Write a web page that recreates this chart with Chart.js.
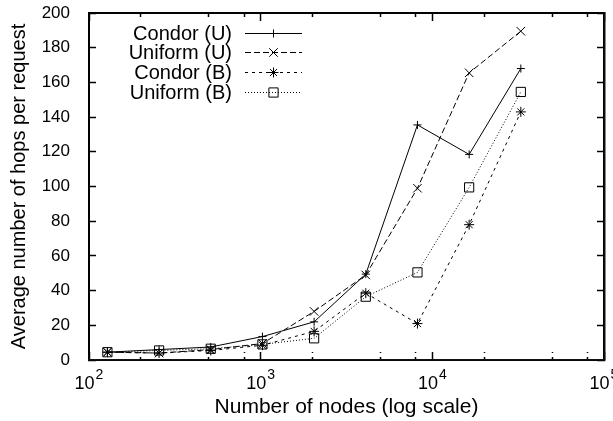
<!DOCTYPE html>
<html>
<head>
<meta charset="utf-8">
<script src="https://cdn.jsdelivr.net/npm/chart.js@4.4.1/dist/chart.umd.min.js"></script>
<style>
  html, body { margin: 0; padding: 0; background: #ffffff; }
  #c { display: block; }
</style>
</head>
<body>
<canvas id="c" width="613" height="421"></canvas>
<script>
// ---- data ----
const nodes = [128, 256, 512, 1024, 2048, 4096, 8192, 16384, 32768];
const condorU = [4.5, 6, 7.5, 13.5, 22, 49.5, 135.5, 118.5, 168];
const uniformU = [4.5, 4, 6, 9.5, 28, 49, 99, 165.5, 189.5];
const condorB = [4.5, 4, 5.5, 8.5, 16.5, 38.5, 21, 78, 143];
const uniformB = [4.5, 5.5, 6.5, 9, 12.5, 36.5, 50.5, 99.5, 154.5];
const seriesNames = ['Condor (U)', 'Uniform (U)', 'Condor (B)', 'Uniform (B)'];
const xTickValues = [100, 1000, 10000, 100000];
const xTickBase = ['10', '10', '10', '10'];
const xTickExp = ['2', '3', '4', '5'];
const xMinorFactors = [2, 5, 8];
const yTickStep = 20;
const yMin = 0, yMax = 200;
const xTitle = 'Number of nodes (log scale)';
const yTitle = 'Average number of hops per request';

const FONT = "'Liberation Sans', Arial, Helvetica, sans-serif";

function pts(values) { return nodes.map((n, i) => ({ x: n, y: values[i] })); }

const styles = [
  { dash: [], pointStyle: 'cross', r: 4 },
  { dash: [6, 3], pointStyle: 'crossRot', r: 6 },
  { dash: [3, 4], pointStyle: 'star', r: 5 },
  { dash: [1, 2], pointStyle: 'rect', r: 6.5 }
];
const seriesData = [condorU, uniformU, condorB, uniformB];

const datasets = seriesData.map((vals, i) => ({
  label: seriesNames[i],
  data: pts(vals),
  borderColor: '#000',
  backgroundColor: 'rgba(0,0,0,0)',
  borderWidth: 1,
  borderDash: styles[i].dash,
  pointStyle: styles[i].pointStyle,
  pointRadius: styles[i].r,
  pointBorderWidth: 1,
  pointBorderColor: '#000',
  pointBackgroundColor: 'rgba(0,0,0,0)',
  tension: 0,
  fill: false
}));

// all x tick positions: decades plus minor factors 2, 5, 8
const xAllTicks = [];
xTickValues.forEach((v, d) => {
  xAllTicks.push(v);
  if (d < xTickValues.length - 1) xMinorFactors.forEach(f => xAllTicks.push(v * f));
});
const isMajor = v => xTickValues.some(m => Math.abs(m - v) < 1e-6 * m);

function xGrid(top) {
  return {
    display: true, drawOnChartArea: false, drawTicks: true,
    tickLength: -8, color: '#000', tickColor: '#000', tickWidth: 1.5, lineWidth: 1,
    tickBorderDash: c => (c.tick && !isMajor(c.tick.value)) ? [4, 4] : [],
    tickBorderDashOffset: c => (top && c.tick && !isMajor(c.tick.value)) ? 4 : 0
  };
}
const yGrid = {
  display: true, drawOnChartArea: false, drawTicks: true,
  tickLength: -7, color: '#000', tickColor: '#000', tickWidth: 1.5, lineWidth: 1
};
const blackBorder = { display: true, color: '#000', width: 2 };

function setXTicks(s) { s.ticks = xAllTicks.map(v => ({ value: v })); }
function noPad(s) { s.paddingTop = 0; s.paddingBottom = 0; s.paddingLeft = 0; s.paddingRight = 0; }

// reinforce the bottom and right frame edges from the scales' own extent
const edgePlugin = {
  id: 'gpedges',
  afterDatasetsDraw(chart) {
    const ctx = chart.ctx;
    const xs = chart.scales.x, ys = chart.scales.y;
    const L = Math.round(xs.getPixelForValue(xTickValues[0]));
    const R = Math.round(xs.getPixelForValue(xTickValues[xTickValues.length - 1]));
    const T = Math.round(ys.getPixelForValue(yMax));
    const B = Math.round(ys.getPixelForValue(yMin));
    ctx.save();
    ctx.strokeStyle = '#111';
    ctx.lineWidth = 1.6;
    ctx.setLineDash([]);
    ctx.beginPath();
    ctx.moveTo(L - 1, B - 0.3);
    ctx.lineTo(R + 0.7, B - 0.3);
    ctx.lineTo(R + 0.7, T - 1);
    ctx.stroke();
    ctx.restore();
  }
};

const labelPlugin = {
  id: 'gplabels',
  afterDraw(chart) {
    const ctx = chart.ctx;
    const a = chart.chartArea;
    const xs = chart.scales.x;
    ctx.save();
    ctx.fillStyle = '#000';
    ctx.textBaseline = 'alphabetic';
    ctx.textAlign = 'left';
    // x tick labels with superscript exponents
    xTickValues.forEach((v, i) => {
      const x = xs.getPixelForValue(v);
      ctx.font = '18px ' + FONT;
      const wb = ctx.measureText(xTickBase[i]).width;
      ctx.font = '14px ' + FONT;
      const we = ctx.measureText(xTickExp[i]).width;
      const start = x - (wb + we + 1) / 2;
      ctx.font = '18px ' + FONT;
      ctx.fillText(xTickBase[i], start, a.bottom + 29);
      ctx.font = '14px ' + FONT;
      ctx.fillText(xTickExp[i], start + wb + 1, a.bottom + 19);
    });
    // legend (text right-aligned, sample after)
    const rows = [32.5, 52.3, 72.1, 91.8];
    ctx.strokeStyle = '#000';
    ctx.lineWidth = 1;
    chart.data.datasets.forEach((ds, i) => {
      const y = rows[i];
      ctx.font = '20px ' + FONT;
      ctx.textAlign = 'right';
      ctx.fillStyle = '#000';
      ctx.fillText(ds.label, 232, y + 7);
      ctx.beginPath();
      ctx.setLineDash(ds.borderDash || []);
      ctx.moveTo(245, Math.round(y) + 0.5);
      ctx.lineTo(302, Math.round(y) + 0.5);
      ctx.stroke();
      ctx.setLineDash([]);
      ctx.fillStyle = 'rgba(0,0,0,0)';
      Chart.helpers.drawPoint(ctx, {
        pointStyle: ds.pointStyle, radius: ds.pointRadius, rotation: 0, borderWidth: 1
      }, 273.5, Math.round(y) + 0.5);
    });
    ctx.restore();
  }
};

new Chart(document.getElementById('c'), {
  type: 'line',
  data: { datasets },
  options: {
    responsive: false,
    animation: false,
    devicePixelRatio: 1,
    layout: { padding: { left: 0, right: 9, top: 13, bottom: 0 } },
    plugins: { legend: { display: false }, tooltip: { enabled: false } },
    scales: {
      x: {
        type: 'logarithmic', position: 'bottom', weight: 1,
        min: 100, max: 100000,
        grid: xGrid(false),
        border: blackBorder,
        ticks: { display: false },
        afterBuildTicks: setXTicks,
        title: {
          display: true, text: xTitle, color: '#000',
          font: { family: FONT, size: 21 },
          padding: { top: 0, bottom: 1 }
        },
        afterFit(s) { s.height = 61; noPad(s); }
      },
      x2: {
        type: 'logarithmic', position: 'top',
        min: 100, max: 100000,
        grid: xGrid(true),
        border: blackBorder,
        ticks: { display: false },
        afterBuildTicks: setXTicks,
        afterFit(s) { s.height = 0; noPad(s); }
      },
      y: {
        type: 'linear', position: 'left',
        min: yMin, max: yMax,
        grid: yGrid,
        border: blackBorder,
        ticks: {
          stepSize: yTickStep, color: '#000', padding: 26,
          font: { family: FONT, size: 17 }
        },
        title: {
          display: true, text: yTitle, color: '#000',
          font: { family: FONT, size: 20 },
          padding: { top: 7, bottom: 0 }
        },
        afterFit(s) { s.width = 89; noPad(s); }
      },
      y2: {
        type: 'linear', position: 'right',
        min: yMin, max: yMax,
        grid: yGrid,
        border: blackBorder,
        ticks: { display: false, stepSize: yTickStep },
        afterFit(s) { s.width = 0; noPad(s); }
      }
    }
  },
  plugins: [edgePlugin, labelPlugin]
});
</script>
</body>
</html>
